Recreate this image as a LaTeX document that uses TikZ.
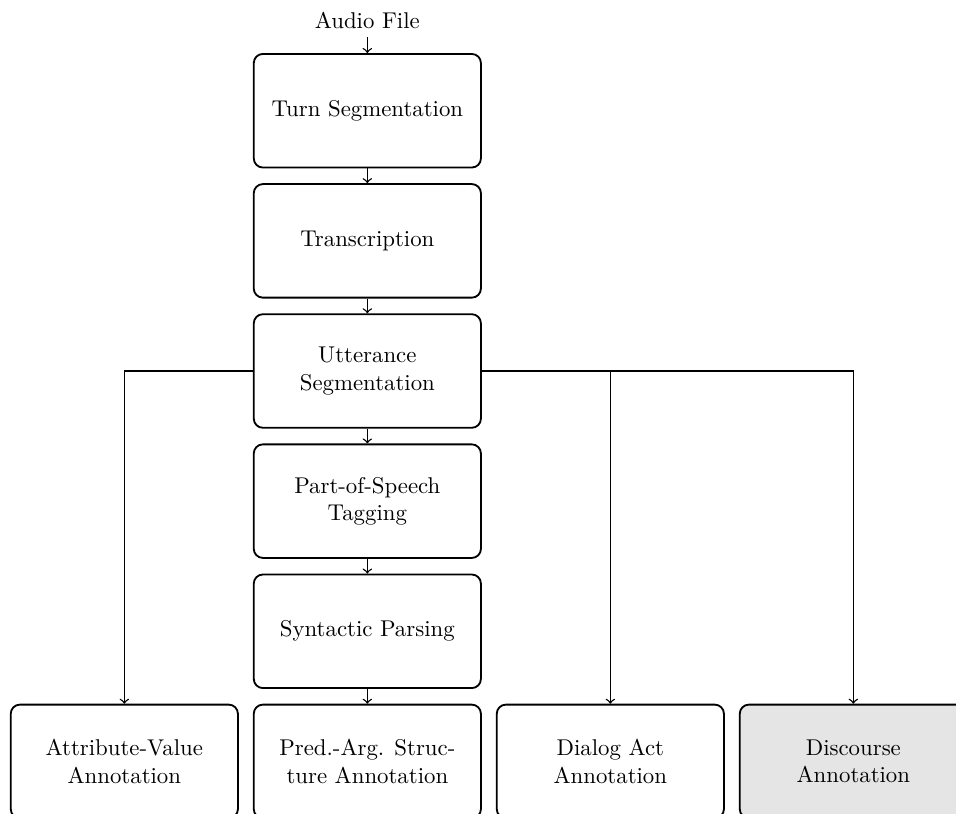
\documentclass[tikz,border=0pt]{standalone}
\usepackage{amsmath,amssymb}
\usetikzlibrary{arrows,positioning}

\tikzset{
  stagebox/.style={draw,thick,rounded corners,minimum width=3.5cm,minimum height=1.75cm,align=center},
  donebox/.style={stagebox,fill=gray!20},
  flow/.style={->,semithick}
}

\begin{document}
\begin{tikzpicture}[node distance=0.227cm and 0.216cm,>=to]
\useasboundingbox (-5.66,1.706) rectangle (9.07,-10.821);
\node[stagebox] (turn) {Turn Segmentation};
\node[above=0.25cm of turn] (audio) {Audio File};
\node[stagebox,below=of turn] (trans) {Transcription};
\node[stagebox,below=of trans] (utt) {Utterance\\Segmentation};
\node[stagebox,below=of utt] (pos) {Part-of-Speech\\Tagging};
\node[stagebox,below=of pos] (syn) {Syntactic Parsing};
\node[stagebox,below=of syn] (pas) {Pred.-Arg. Struc-\\ture Annotation};
\node[stagebox,left=of pas] (attr) {Attribute-Value\\Annotation};
\node[stagebox,right=of pas] (dact) {Dialog Act\\Annotation};
\node[donebox,right=of dact] (disc) {Discourse\\Annotation};

\draw[flow] (audio) -- (turn);
\draw[flow] (turn) -- (trans);
\draw[flow] (trans) -- (utt);
\draw[flow] (utt) -- (pos);
\draw[flow] (pos) -- (syn);
\draw[flow] (syn) -- (pas);
\draw[flow] (utt.west) -| (attr.north);
\draw[flow] (utt.east) -| (dact.north);
\draw[flow] (utt.east) -| (disc.north);
\end{tikzpicture}
\end{document}
